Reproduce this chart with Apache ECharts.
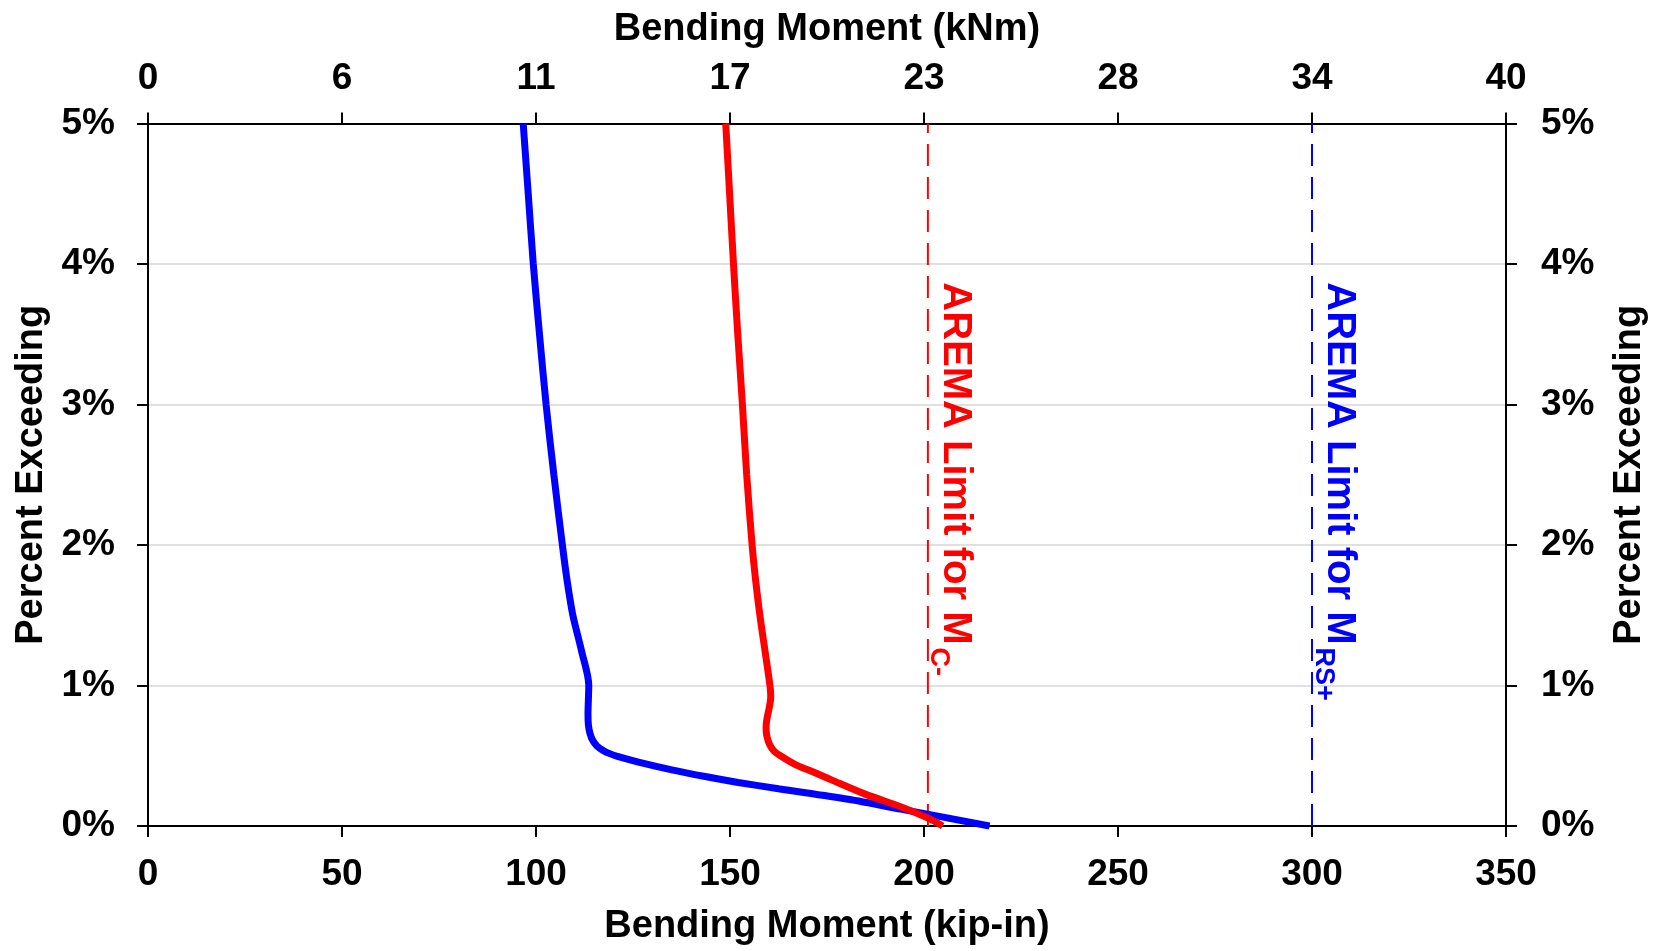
<!DOCTYPE html>
<html>
<head>
    <meta charset="utf-8">
    <title>Bending Moment</title>
    <script type="text/javascript" src="https://cdn.jsdelivr.net/npm/echarts@6.0.0/dist/echarts.min.js"></script>
    <style>
        html, body { margin: 0; padding: 0; background: #fff; }
    </style>
</head>
<body>
<div id="main" style="width: 1657px;height:951px;"></div>
<script type="text/javascript">

    // percent exceeding (y) vs bending moment in kip-in (x)
    var blueKip = [96.7, 98.0, 99.3, 100.9, 102.6, 104.6, 106.8, 108.0, 109.5, 111.7, 113.6, 113.5, 113.4, 113.5, 113.9, 114.6, 115.7, 117.2, 119.0, 121.0, 126.4, 135.0, 143.6, 152.1, 162.5, 180.5, 194.0, 216.9];
    var bluePct = [5.0, 4.5, 4.0, 3.5, 3.0, 2.5, 2.0, 1.75, 1.5, 1.25, 1.0, 0.9, 0.8, 0.72, 0.66, 0.61, 0.57, 0.54, 0.515, 0.495, 0.455, 0.40, 0.352, 0.31, 0.265, 0.19, 0.12, 0.0];

    var redKip = [148.9, 149.9, 150.9, 152.0, 153.2, 154.3, 155.7, 156.6, 157.7, 159.0, 160.3, 160.5, 160.1, 159.5, 159.3, 159.5, 160.2, 161.3, 163.0, 167.0, 171.0, 176.0, 185.0, 194.0, 201.2, 204.8];
    var redPct = [5.0, 4.5, 4.0, 3.5, 3.0, 2.5, 2.0, 1.75, 1.5, 1.25, 1.0, 0.92, 0.84, 0.76, 0.7, 0.64, 0.58, 0.535, 0.5, 0.435, 0.39, 0.33, 0.225, 0.137, 0.054, 0.0];

    // AREMA limits (kip-in)
    var limitMc = 201;
    var limitMrs = 300;

    var kipLabels = ['0', '50', '100', '150', '200', '250', '300', '350'];
    var kNmLabels = ['0', '6', '11', '17', '23', '28', '34', '40'];
    var pctLabels = ['0%', '1%', '2%', '3%', '4%', '5%'];

    function pairs(xs, ys) {
        var out = [];
        for (var i = 0; i < xs.length; i++) out.push([xs[i], ys[i]]);
        return out;
    }

    var FONT = '"Liberation Sans", Arial, sans-serif';
    var axisLine = { show: true, onZero: false, lineStyle: { color: '#000', width: 2 } };
    var axisTick = { show: true, length: 11, lineStyle: { color: '#000', width: 2 } };
    var labelStyle = { color: '#000', fontSize: 37, fontWeight: 'bold', fontFamily: FONT };
    var nameStyle = { color: '#000', fontSize: 38, fontWeight: 'bold', fontFamily: FONT };

    var myChart = echarts.init(document.getElementById('main'));

    var option = {
        animation: false,
        backgroundColor: '#fff',
        grid: { left: 148, right: 147, top: 123.5, bottom: 118.5, containLabel: false },
        xAxis: [{
            type: 'value', position: 'bottom', min: 0, max: 350, interval: 50,
            name: 'Bending Moment (kip-in)', nameLocation: 'middle', nameGap: 82,
            nameTextStyle: nameStyle,
            axisLine: axisLine, axisTick: axisTick,
            axisLabel: Object.assign({ margin: 30, formatter: function (v) { return kipLabels[Math.round(v / 50)]; } }, labelStyle),
            splitLine: { show: false }
        }, {
            type: 'value', position: 'top', min: 0, max: 350, interval: 50,
            name: 'Bending Moment (kNm)', nameLocation: 'middle', nameGap: 75,
            nameTextStyle: nameStyle,
            axisLine: axisLine, axisTick: axisTick,
            axisLabel: Object.assign({ margin: 26, formatter: function (v) { return kNmLabels[Math.round(v / 50)]; } }, labelStyle),
            splitLine: { show: false }
        }],
        yAxis: [{
            type: 'value', position: 'left', min: 0, max: 5, interval: 1,
            name: 'Percent Exceeding', nameLocation: 'middle', nameGap: 97, nameRotate: 90,
            nameTextStyle: nameStyle,
            axisLine: axisLine, axisTick: axisTick,
            axisLabel: Object.assign({ margin: 33, formatter: function (v) { return pctLabels[Math.round(v)]; } }, labelStyle),
            splitLine: { show: true, lineStyle: { color: '#d6d6d6', width: 1.5 } }
        }, {
            type: 'value', position: 'right', min: 0, max: 5, interval: 1,
            name: 'Percent Exceeding', nameLocation: 'middle', nameGap: 105, nameRotate: 90,
            nameTextStyle: nameStyle,
            axisLine: axisLine, axisTick: axisTick,
            axisLabel: Object.assign({ margin: 35, formatter: function (v) { return pctLabels[Math.round(v)]; } }, labelStyle),
            splitLine: { show: false }
        }],
        series: [{
            name: 'Mrs', type: 'line', xAxisIndex: 0, yAxisIndex: 0,
            data: pairs(blueKip, bluePct), showSymbol: false, symbol: 'none',
            smooth: 0.3,
            lineStyle: { color: '#0000ff', width: 7 }, z: 3
        }, {
            name: 'Mc', type: 'line', xAxisIndex: 0, yAxisIndex: 0,
            data: pairs(redKip, redPct), showSymbol: false, symbol: 'none',
            smooth: 0.3,
            lineStyle: { color: '#ff0000', width: 7 }, z: 4
        }, {
            name: 'limit Mc', type: 'line', xAxisIndex: 0, yAxisIndex: 0,
            data: [[limitMc, 0], [limitMc, 5]], showSymbol: false, symbol: 'none',
            lineStyle: { color: '#ff0000', width: 2, type: [22, 11] }, z: 2
        }, {
            name: 'limit Mrs', type: 'line', xAxisIndex: 0, yAxisIndex: 0,
            data: [[limitMrs, 0], [limitMrs, 5]], showSymbol: false, symbol: 'none',
            lineStyle: { color: '#0000ff', width: 2, type: [22, 11] }, z: 2
        }]
    };

    myChart.setOption(option);

    // vertical limit labels with subscripts
    var ctx = document.createElement('canvas').getContext('2d');
    function limitLabel(xVal, sub, color) {
        var mainSize = 40, subSize = 27;
        var main = 'AREMA Limit for M';
        ctx.font = 'bold ' + mainSize + 'px ' + FONT;
        var w = ctx.measureText(main).width;
        var p = myChart.convertToPixel({ xAxisIndex: 0, yAxisIndex: 0 }, [xVal, 3.87]);
        return [{
            type: 'text', x: p[0] + 27, y: p[1], rotation: -Math.PI / 2, z: 10,
            style: { text: main, fill: color, font: 'bold ' + mainSize + 'px ' + FONT, align: 'left', verticalAlign: 'middle' }
        }, {
            type: 'text', x: p[0] + 11, y: p[1] + w + 3, rotation: -Math.PI / 2, z: 10,
            style: { text: sub, fill: color, font: 'bold ' + subSize + 'px ' + FONT, align: 'left', verticalAlign: 'middle' }
        }];
    }

    myChart.setOption({
        graphic: limitLabel(limitMc, 'C-', '#ff0000').concat(limitLabel(limitMrs, 'RS+', '#0000ff'))
    });

</script>
</body>
</html>
